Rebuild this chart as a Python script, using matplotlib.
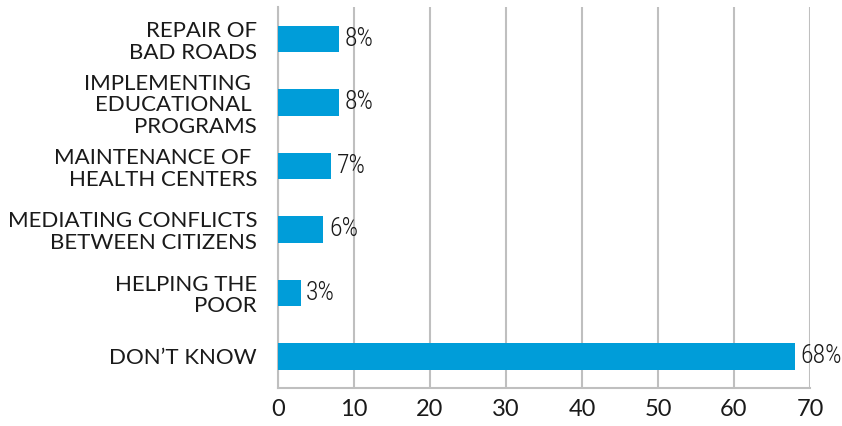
import matplotlib
matplotlib.use("Agg")
import matplotlib.pyplot as plt
from matplotlib.transforms import ScaledTranslation

categories = [
    "REPAIR OF\nBAD ROADS",
    "IMPLEMENTING \nEDUCATIONAL \nPROGRAMS",
    "MAINTENANCE OF \nHEALTH CENTERS",
    "MEDIATING CONFLICTS\nBETWEEN CITIZENS",
    "HELPING THE\nPOOR",
    "DON\u2019T KNOW",
]
values = [8, 8, 7, 6, 3, 68]
value_labels = ["8%", "8%", "7%", "6%", "3%", "68%"]
xticks = [0, 10, 20, 30, 40, 50, 60, 70]

# vertical nudges of the category labels (pixels, downward)
label_shift = [-9, 0, 12, 12, 13, 0]

bar_color = "#009DD9"
grid_color = "#BFBFBF"
text_color = "#1a1a1a"
label_font = ["Lato", "DejaVu Sans"]

fig = plt.figure(figsize=(8.42, 4.26), dpi=100)
ax = fig.add_axes([0.330, 0.089, 0.632, 0.894])

pos = list(range(len(categories)))
ax.barh(pos, values, height=0.42, color=bar_color, zorder=3)
ax.set_ylim(len(categories) - 0.5, -0.5)
ax.set_xlim(0, 70)

# value labels to the right of each bar
for p, v, lab in zip(pos, values, value_labels):
    ax.annotate(lab, (v, p), xytext=(4, 0), textcoords="offset points",
                va="center", ha="left", fontsize=18.5, fontweight="light",
                family=["Roboto Condensed", "DejaVu Sans"], color=text_color)

ax.set_yticks(pos)
ax.set_yticklabels(categories, fontsize=16, family=label_font,
                   color=text_color, linespacing=1.1)
for lbl, dy in zip(ax.get_yticklabels(), label_shift):
    lbl.set_transform(lbl.get_transform() + ScaledTranslation(0, -dy / 100, fig.dpi_scale_trans))
ax.set_xticks(xticks)
ax.set_xticklabels([str(t) for t in xticks], fontsize=17,
                   family=label_font, color=text_color)
ax.tick_params(axis="y", length=0, pad=15)
ax.tick_params(axis="x", length=0, pad=8)

ax.grid(axis="x", color=grid_color, linewidth=1.5, zorder=0)
for s in ["top", "right"]:
    ax.spines[s].set_visible(False)
for s in ["left", "bottom"]:
    ax.spines[s].set_color(grid_color)
    ax.spines[s].set_linewidth(1.5)

fig.savefig("out.png", dpi=100)
